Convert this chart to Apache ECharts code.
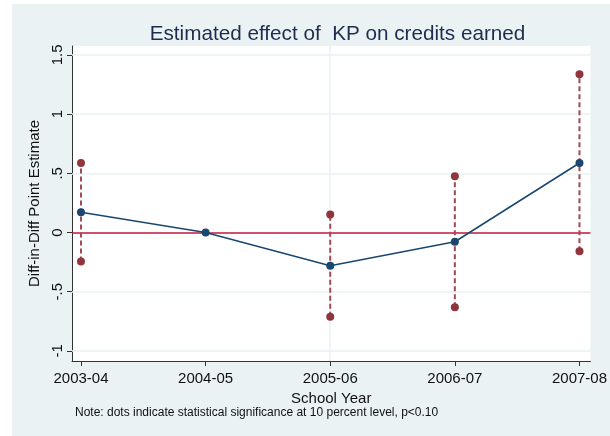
<!DOCTYPE html>
<html>
<head>
<meta charset="utf-8">
<script src="https://cdn.jsdelivr.net/npm/echarts@6/dist/echarts.min.js"></script>
<style>
  html, body { margin: 0; padding: 0; background: #ffffff; }
  #chart { position: absolute; left: 12px; top: 4px; width: 598px; height: 432px; background: #eaf2f3; }
</style>
</head>
<body>
<div id="chart"></div>
<script>
// School years on the x axis
const years = ['2003-04', '2004-05', '2005-06', '2006-07', '2007-08'];
// Diff-in-diff point estimates (2004-05 is the base year)
const estimate = [0.172, 0, -0.281, -0.078, 0.587];
// Confidence bounds (no interval for the base year)
const ciUpper = [0.586, null, 0.152, 0.476, 1.337];
const ciLower = [-0.245, null, -0.712, -0.632, -0.158];
// Y axis ticks and their labels
const yTicks = [-1, -0.5, 0, 0.5, 1, 1.5];
const yTickLabels = ['-1', '-.5', '0', '.5', '1', '1.5'];

const navy = '#1a476f';
const maroon = '#90353b';
const gridColor = '#eaf2f3';
const font = '"Liberation Sans", Arial, sans-serif';

const xIdx = years.map((_, i) => i);
const lineData = estimate.map((v, i) => [i, v]);
const ciData = [];
years.forEach((_, i) => {
  if (ciUpper[i] !== null && ciLower[i] !== null) ciData.push([i, ciLower[i], ciUpper[i]]);
});

const chart = echarts.init(document.getElementById('chart'), null, { renderer: 'canvas' });

chart.setOption({
  backgroundColor: 'transparent',
  animation: false,
  title: {
    text: 'Estimated effect of  KP on credits earned',
    left: 320.5,
    top: 15,
    textAlign: 'center',
    textStyle: { fontFamily: font, fontSize: 20.7, fontWeight: 'normal', color: '#1e2d4f' }
  },
  grid: { left: 60, top: 42, right: 17, bottom: 75, show: true, backgroundColor: '#ffffff', borderWidth: 0 },
  xAxis: {
    type: 'value',
    min: -0.072,
    max: 4.088,
    name: 'School Year',
    nameLocation: 'middle',
    nameGap: 21,
    nameTextStyle: { fontFamily: font, fontSize: 15, color: '#111' },
    axisLine: { show: true, onZero: false, lineStyle: { color: '#333', width: 1 } },
    axisTick: { show: true, length: 5, customValues: xIdx, lineStyle: { color: '#333' } },
    axisLabel: {
      customValues: xIdx,
      margin: 10,
      fontFamily: font, fontSize: 15, color: '#111',
      formatter: v => years[Math.round(v)] || ''
    },
    splitLine: { show: false }
  },
  yAxis: {
    type: 'value',
    min: -1.085,
    max: 1.575,
    name: 'Diff-in-Diff Point Estimate',
    nameLocation: 'middle',
    nameGap: 22,
    nameTextStyle: { fontFamily: font, fontSize: 15, color: '#111' },
    axisLine: { show: true, onZero: false, lineStyle: { color: '#333', width: 1 } },
    axisTick: { show: true, length: 5, customValues: yTicks, lineStyle: { color: '#333' } },
    axisLabel: {
      customValues: yTicks,
      rotate: 90,
      margin: 7,
      fontFamily: font, fontSize: 15, color: '#111',
      formatter: v => {
        const k = yTicks.findIndex(t => Math.abs(t - v) < 1e-9);
        return k >= 0 ? yTickLabels[k] : '';
      }
    },
    splitLine: { show: false }
  },
  graphic: [{
    type: 'text',
    left: 63,
    top: 403,
    style: {
      text: 'Note: dots indicate statistical significance at 10 percent level, p<0.10',
      font: '12px ' + font,
      fill: '#111'
    }
  }],
  series: [
    {
      // light grid lines
      type: 'line',
      data: [],
      silent: true,
      z: 1,
      markLine: {
        z: 1,
        silent: true,
        symbol: 'none',
        label: { show: false },
        animation: false,
        data: yTicks.filter(t => t !== 0).map(t => ({ yAxis: t, lineStyle: { color: gridColor, width: 1.5, type: 'solid' } }))
          .concat([{ xAxis: 2, lineStyle: { color: gridColor, width: 1.5, type: 'solid' } }])
      }
    },
    {
      // zero reference line
      type: 'line',
      data: [],
      silent: true,
      z: 2,
      markLine: {
        z: 2,
        silent: true,
        symbol: 'none',
        label: { show: false },
        animation: false,
        data: [{ yAxis: 0, lineStyle: { color: '#c0163c', width: 1.5, type: 'solid' } }]
      }
    },
    {
      // confidence intervals: dashed spikes with dots at both ends
      type: 'custom',
      z: 3,
      data: ciData,
      renderItem: (params, api) => {
        const lo = api.coord([api.value(0), api.value(1)]);
        const hi = api.coord([api.value(0), api.value(2)]);
        return {
          type: 'group',
          children: [
            { type: 'line', shape: { x1: lo[0], y1: lo[1], x2: hi[0], y2: hi[1] },
              style: { stroke: '#a04a53', lineWidth: 2, lineDash: [5, 3] } },
            { type: 'circle', shape: { cx: lo[0], cy: lo[1], r: 4 }, style: { fill: maroon } },
            { type: 'circle', shape: { cx: hi[0], cy: hi[1], r: 4 }, style: { fill: maroon } }
          ]
        };
      }
    },
    {
      type: 'line',
      z: 4,
      data: lineData,
      symbol: 'circle',
      symbolSize: 8,
      lineStyle: { color: navy, width: 1.5 },
      itemStyle: { color: navy }
    }
  ]
});
</script>
</body>
</html>
